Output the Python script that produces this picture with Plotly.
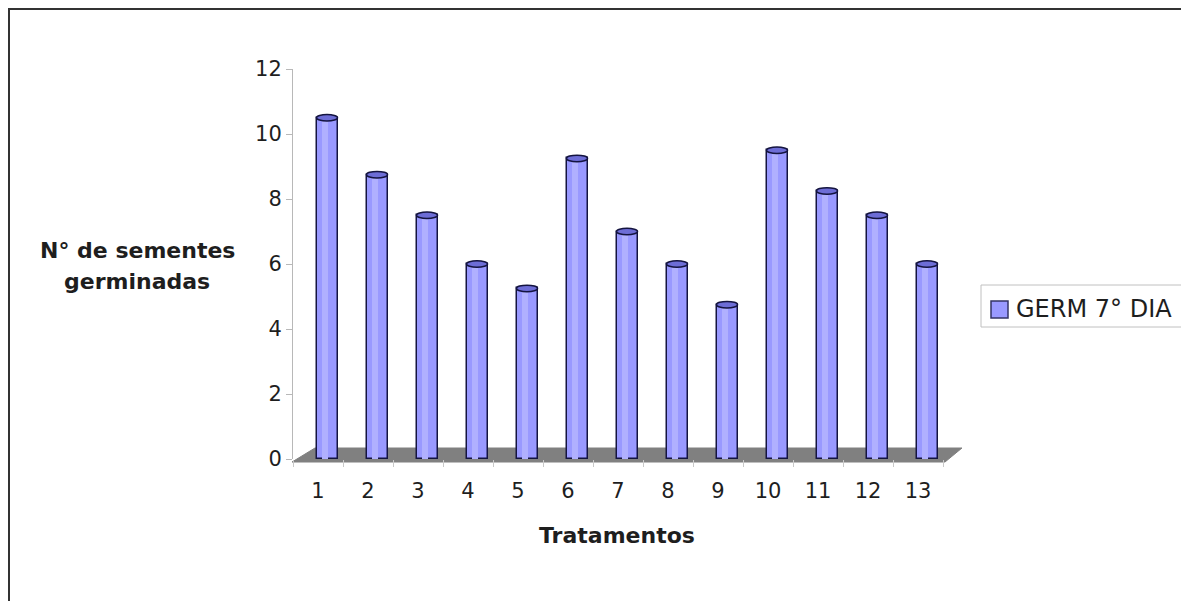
import plotly.graph_objects as go

tratamentos = [str(i) for i in range(1, 14)]
x_pos = list(range(1, 14))
germ_7_dia = [10.5, 8.75, 7.5, 6, 5.25, 9.25, 7, 6, 4.75, 9.5, 8.25, 7.5, 6]
serie_nome = "GERM 7° DIA"
y_ticks = [0, 2, 4, 6, 8, 10, 12]

# page body has an 8px margin; figure sized to fit the window
SH = 8
W, H = 1189 - SH, 601 - SH
PL, PR, PT, PB = 293, 943, 69, 459  # plot area in reference pixels
L, T = PL - SH, PT - SH
R, B = W - (PR - SH), H - (PB - SH)
pw, ph = PR - PL, PB - PT


def px(xp):
    return (xp - PL) / pw


def py(yp):
    return (PB - yp) / ph


FONT = "DejaVu Sans, Liberation Sans, Arial, sans-serif"
bar_w = 0.42
bar_off = -0.03
bar_color = "#9999ff"
edge = "#141440"

fig = go.Figure()
fig.add_trace(go.Bar(
    x=x_pos, y=germ_7_dia, name=serie_nome, showlegend=False,
    width=bar_w, offset=bar_off,
    marker=dict(color=bar_color, line=dict(color=edge, width=1.5)),
))
# cylinder highlight
fig.add_trace(go.Bar(
    x=x_pos, y=germ_7_dia, showlegend=False, hoverinfo="skip",
    width=bar_w * 0.3, offset=bar_off + bar_w * 0.25,
    marker=dict(color="#b0b0ff", line=dict(width=0)),
))

shapes = []
# floor (pseudo-3D base)
fl = [(292, 462), (945, 462), (962, 448), (315, 448)]
path = "M " + " L ".join(f"{px(a):.4f},{py(b):.4f}" for a, b in fl) + " Z"
shapes.append(dict(type="path", xref="paper", yref="paper", path=path,
                   fillcolor="#808080", line=dict(color="#808080", width=1),
                   layer="below"))
# cylinder tops
eh = 0.1
for xv, v in zip(x_pos, germ_7_dia):
    shapes.append(dict(type="circle", xref="x", yref="y",
                       x0=xv + bar_off, x1=xv + bar_off + bar_w,
                       y0=v - eh, y1=v + eh,
                       fillcolor="#6d6dd6", line=dict(color=edge, width=1.5),
                       layer="above"))
# custom legend box and symbol
shapes.append(dict(type="rect", xref="paper", yref="paper",
                   x0=px(981), x1=px(1183), y0=py(285), y1=py(327),
                   line=dict(color="#c0c0c0", width=1), fillcolor="white"))
shapes.append(dict(type="rect", xref="paper", yref="paper",
                   x0=px(991), x1=px(1008), y0=py(301), y1=py(318),
                   line=dict(color="#333366", width=1.5), fillcolor=bar_color))
# outer border
shapes.append(dict(type="rect", xref="paper", yref="paper",
                   x0=px(9), x1=px(1210), y0=py(9), y1=py(620),
                   line=dict(color="#333333", width=2), fillcolor="rgba(0,0,0,0)"))

txt = dict(size=22, color="#1e1e1e", family=FONT)
fig.update_layout(
    width=W, height=H,
    margin=dict(l=L, r=R, t=T, b=B, pad=0),
    paper_bgcolor="white", plot_bgcolor="white",
    font=dict(family=FONT, size=22, color="#1e1e1e"),
    bargap=0, barmode="overlay",
    shapes=shapes,
    showlegend=False,
    xaxis=dict(range=[0.5, 13.5], tickvals=x_pos, ticktext=tratamentos,
               showgrid=False, zeroline=False, showline=False,
               ticks="", ticklen=0, ticklabelstandoff=17,
               minor=dict(tickvals=[i + 0.5 for i in range(0, 14)], ticks="outside",
                          ticklen=7, tickcolor="#c8c8c8", showgrid=False),
               tickfont=dict(size=21), automargin=False),
    yaxis=dict(range=[0, 12], tickvals=y_ticks, showgrid=False, zeroline=False,
               showline=True, linecolor="#b8b8b8", linewidth=1,
               ticks="outside", ticklen=6, tickcolor="#b8b8b8",
               tickfont=dict(size=21), automargin=False),
    annotations=[
        dict(text="<b>N° de sementes</b>", xref="paper", yref="paper",
             x=px(137), y=py(250), xanchor="center", yanchor="middle",
             showarrow=False, font=txt),
        dict(text="<b>germinadas</b>", xref="paper", yref="paper",
             x=px(137), y=py(281), xanchor="center", yanchor="middle",
             showarrow=False, font=txt),
        dict(text="<b>Tratamentos</b>", xref="paper", yref="paper",
             x=px(617), y=py(535), xanchor="center", yanchor="middle",
             showarrow=False, font=txt),
        dict(text=serie_nome, xref="paper", yref="paper",
             x=px(1014), y=py(309), xanchor="left", yanchor="middle",
             showarrow=False, font=dict(size=24, color="#1e1e1e", family=FONT)),
    ],
)

fig.write_html("out.html")
